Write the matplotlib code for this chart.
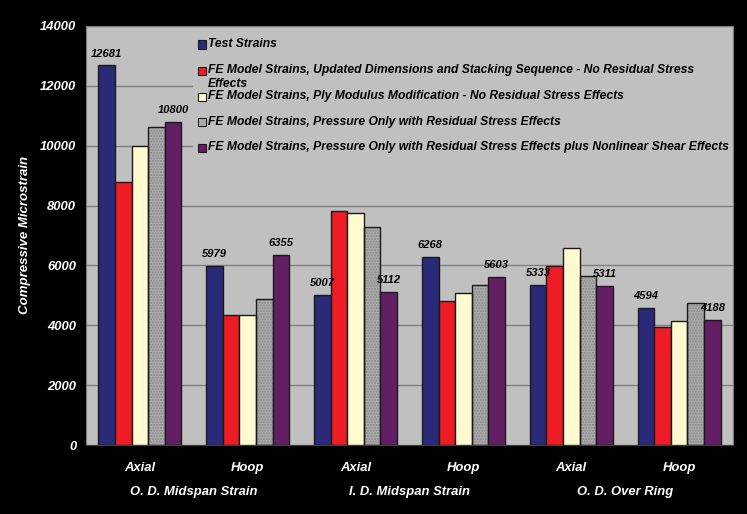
import numpy as np
import matplotlib.pyplot as plt
from matplotlib.patches import Rectangle

plt.rcParams['font.family'] = ['Liberation Sans', 'DejaVu Sans']

# data
categories = ['Axial', 'Hoop', 'Axial', 'Hoop', 'Axial', 'Hoop']
groups = ['O. D. Midspan Strain', 'I. D. Midspan Strain', 'O. D. Over Ring']
series_names = [
    'Test Strains',
    'FE Model Strains, Updated Dimensions and Stacking Sequence - No Residual Stress\nEffects',
    'FE Model Strains, Ply Modulus Modification - No Residual Stress Effects',
    'FE Model Strains, Pressure Only with Residual Stress Effects',
    'FE Model Strains, Pressure Only with Residual Stress Effects plus Nonlinear Shear Effects',
]
test = [12681, 5979, 5007, 6268, 5333, 4594]
fe_updated = [8780, 4345, 7830, 4810, 5980, 3930]
fe_ply = [9990, 4345, 7740, 5090, 6590, 4155]
fe_residual = [10635, 4880, 7275, 5345, 5655, 4755]
fe_nonlinear = [10800, 6355, 5112, 5603, 5311, 4188]
labelled = [0, 4]  # series that carry value labels

series = [test, fe_updated, fe_ply, fe_residual, fe_nonlinear]
colors = ['#2b2a78', '#ee1c25', '#fffad0', '#ababab', '#621f63']

W, H = 747, 514
fig = plt.figure(figsize=(W / 100, H / 100), dpi=100)
fig.patch.set_facecolor('black')
ax = fig.add_axes([86 / W, 1 - 445 / H, 647 / W, 419 / H])
ax.set_facecolor('#c0c0c0')

x = np.arange(len(categories))
bw = 0.154
for i, vals in enumerate(series):
    pos = x + (i - 2) * bw
    if i == 3:
        # dotted texture of the grey bars
        ax.bar(pos, vals, bw, color=colors[i], hatch='......', edgecolor='#8a8a8a',
               linewidth=0, zorder=2)
        ax.bar(pos, vals, bw, fill=False, edgecolor='#1a1a1a', linewidth=1, zorder=3)
    else:
        ax.bar(pos, vals, bw, color=colors[i], edgecolor='#1a1a1a', linewidth=1, zorder=3)
    if i in labelled:
        for px, v in zip(pos, vals):
            ax.annotate(str(v), (px, v), xytext=(0, 8.6), textcoords='offset points',
                        ha='center', va='center', fontsize=8, fontweight='bold',
                        fontstyle='italic', color='black', zorder=5)

ax.set_xlim(-0.5, len(categories) - 0.5)
ax.set_ylim(0, 14000)
ax.set_yticks(range(0, 14001, 2000))
ax.set_axisbelow(True)
ax.yaxis.grid(True, color='#808080', linewidth=1)
ax.set_xticks(x)
ax.set_xticklabels(categories)
ax.tick_params(length=0, colors='white', labelsize=9.4)
ax.tick_params(axis='x', pad=12)
ax.tick_params(axis='y', pad=7)
for lab in ax.get_xticklabels() + ax.get_yticklabels():
    lab.set_fontweight('bold')
    lab.set_fontstyle('italic')
for s in ax.spines.values():
    s.set_color('#7a7a7a')
ax.spines['bottom'].set_color('#404040')

for g, name in enumerate(groups):
    ax.text(2 * g + 0.5, -0.112, name, transform=ax.get_xaxis_transform(),
            ha='center', va='center', fontsize=9.4, fontweight='bold',
            fontstyle='italic', color='white')

fig.text(25 / W, 1 - 235 / H, 'Compressive Microstrain', rotation=90, ha='center',
         va='center', fontsize=9.5, fontweight='bold', fontstyle='italic', color='white')

# legend box covering the gridlines, then the entries
ax.add_patch(Rectangle(((193 - 86) / 647, (445 - 165) / 419), 540 / 647, 135 / 419,
                       transform=ax.transAxes, facecolor='#c0c0c0',
                       edgecolor='none', zorder=1))
leg_y = [44.5, 71, 96.5, 122, 147.5]
for name, c, py in zip(series_names, colors, leg_y):
    fig.patches.append(Rectangle((197.5 / W, 1 - (py + 4) / H), 8 / W, 8 / H,
                                 transform=fig.transFigure, facecolor=c,
                                 edgecolor='#1a1a1a', linewidth=0.8, figure=fig))
    fig.text(208 / W, 1 - (py - 6.5) / H, name, ha='left', va='top', fontsize=8.75,
             fontweight='bold', fontstyle='italic', color='black', linespacing=1.15)

fig.savefig('out.png', dpi=100, facecolor=fig.get_facecolor())
